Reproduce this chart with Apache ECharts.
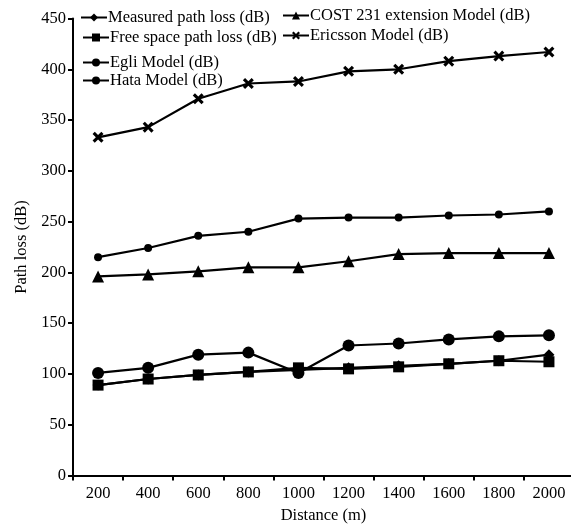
<!DOCTYPE html>
<html>
<head>
<meta charset="utf-8">
<script src="https://cdn.jsdelivr.net/npm/echarts@6/dist/echarts.min.js"></script>
<style>
  html, body { margin: 0; padding: 0; background: #fff; }
  #chart { width: 571px; height: 524px; }
</style>
</head>
<body>
<div id="chart"></div>
<script>
// Distance categories (m)
const distances = ['200', '400', '600', '800', '1000', '1200', '1400', '1600', '1800', '2000'];

// Path loss per model (dB)
const measured  = [89, 95, 99, 102, 104, 106, 108, 110, 113, 119];
const freeSpace = [89, 95, 99, 102, 106, 105, 107, 110, 113, 112];
const egli      = [215, 224, 236, 240, 253, 254, 254, 256, 257, 260];
const hata      = [101, 106, 119, 121, 101, 128, 130, 134, 137, 138];
const cost231   = [196, 198, 201, 205, 205, 211, 218, 219, 219, 219];
const ericsson  = [333, 343, 371, 386, 388, 398, 400, 408, 413, 417];

const yMin = 0, yMax = 450, yStep = 50;

const FONT = 'Liberation Serif';
const FS = 16.5;
const crossSymbol = 'path://M0,2L2,0L5,3L8,0L10,2L7,5L10,8L8,10L5,7L2,10L0,8L3,5Z';

function lineSeries(name, data, symbol, size) {
  return {
    name: name,
    type: 'line',
    data: data,
    symbol: symbol,
    symbolSize: size,
    showAllSymbol: true,
    lineStyle: { color: '#000', width: 2.2 },
    itemStyle: { color: '#000' },
    animation: false
  };
}

function legendAt(name, left, top) {
  return {
    data: [name],
    left: left,
    top: top,
    padding: 0,
    itemWidth: 26,
    itemHeight: 10,
    selectedMode: false,
    textStyle: { fontFamily: FONT, fontSize: FS, color: '#000', padding: [0, 0, 0, -4] }
  };
}

const names = {
  measured: 'Measured path loss (dB)',
  free: 'Free space path loss (dB)',
  egli: 'Egli Model (dB)',
  hata: 'Hata Model (dB)',
  cost: 'COST 231 extension Model (dB)',
  eric: 'Ericsson Model (dB)'
};

const chart = echarts.init(document.getElementById('chart'), null, { renderer: 'canvas' });
chart.setOption({
  backgroundColor: '#fff',
  animation: false,
  legend: [
    legendAt(names.measured, 80, 9),
    legendAt(names.free, 82, 29),
    legendAt(names.egli, 82, 54),
    legendAt(names.hata, 82, 72),
    legendAt(names.cost, 282, 7),
    legendAt(names.eric, 282, 27)
  ],
  grid: { left: 73, top: 18.5, width: 501, height: 457, outerBoundsMode: 'none', containLabel: false },
  xAxis: {
    type: 'category',
    data: distances,
    boundaryGap: true,
    name: 'Distance (m)',
    nameLocation: 'middle',
    nameGap: 29,
    nameTextStyle: { fontFamily: FONT, fontSize: FS, color: '#000' },
    axisLine: { lineStyle: { color: '#000', width: 2 } },
    axisTick: { show: true, length: 5, lineStyle: { color: '#000', width: 2 } },
    axisLabel: { fontFamily: FONT, fontSize: FS, color: '#000', margin: 10 },
    splitLine: { show: false }
  },
  yAxis: {
    type: 'value',
    min: yMin,
    max: yMax,
    interval: yStep,
    name: 'Path loss (dB)',
    nameLocation: 'middle',
    nameGap: 42,
    nameRotate: 90,
    nameTextStyle: { fontFamily: FONT, fontSize: FS, color: '#000' },
    axisLine: { show: true, lineStyle: { color: '#000', width: 2 } },
    axisTick: { show: true, length: 5, lineStyle: { color: '#000', width: 2 } },
    axisLabel: { fontFamily: FONT, fontSize: FS, color: '#000', margin: 7 },
    splitLine: { show: false }
  },
  series: [
    lineSeries(names.eric, ericsson, crossSymbol, 11),
    lineSeries(names.cost, cost231, 'triangle', 12),
    lineSeries(names.egli, egli, 'circle', 8),
    lineSeries(names.hata, hata, 'circle', 12),
    lineSeries(names.free, freeSpace, 'rect', 11),
    lineSeries(names.measured, measured, 'diamond', 11)
  ]
});
</script>
</body>
</html>
